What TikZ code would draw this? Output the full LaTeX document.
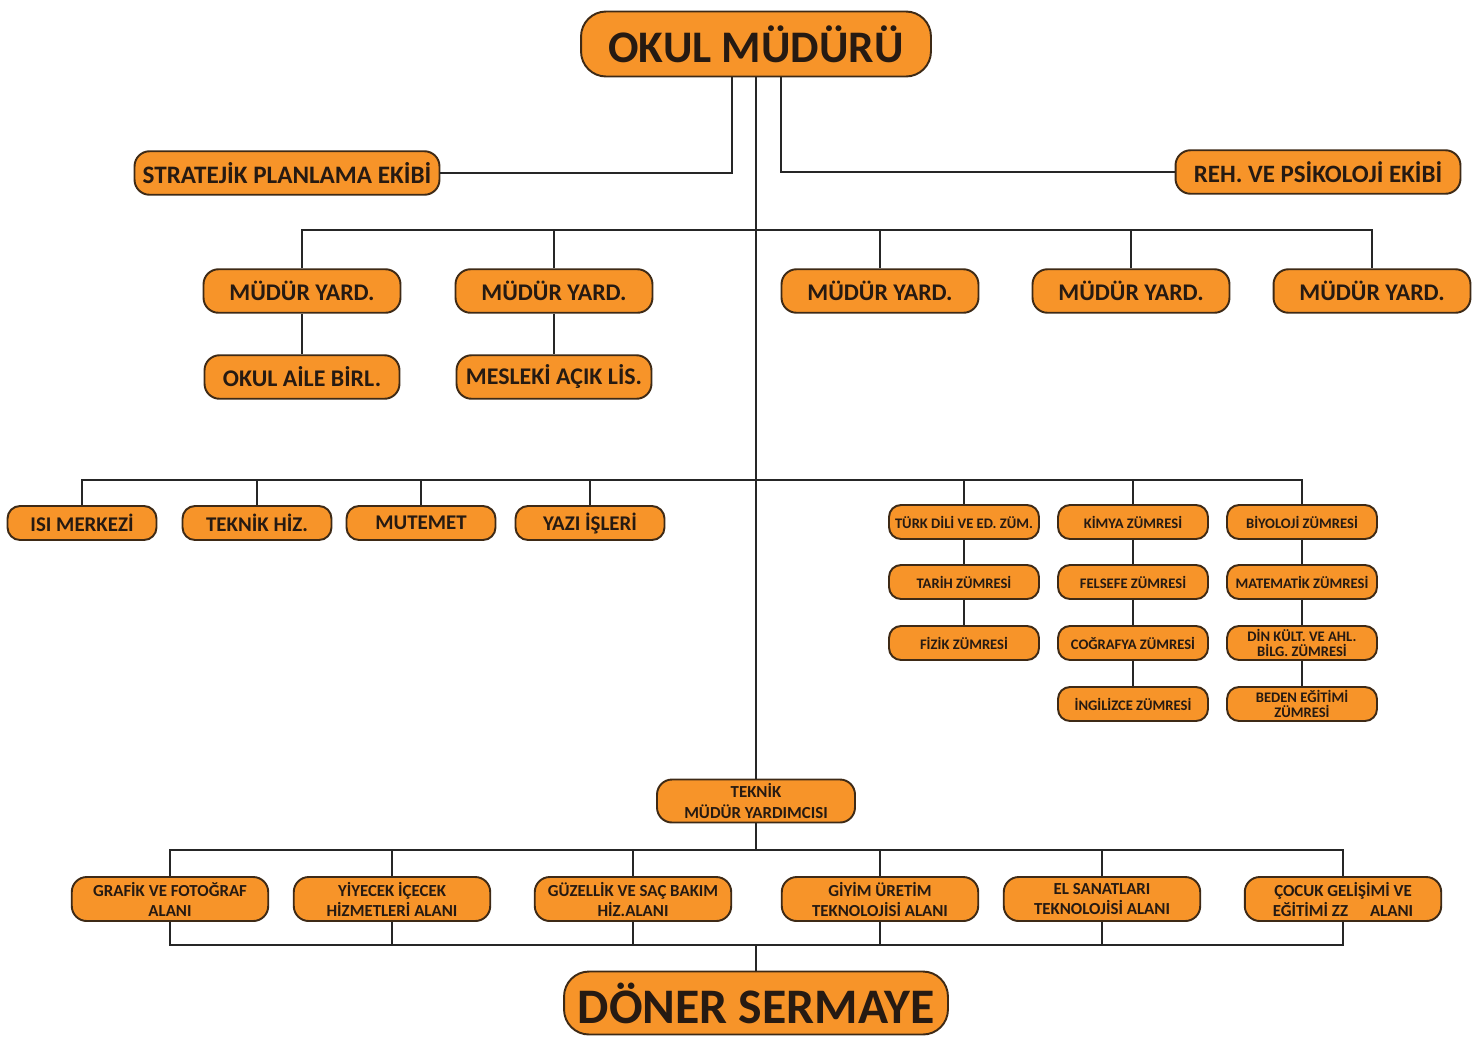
\documentclass[tikz,border=0pt]{standalone}
\usepackage{fontspec}
\setmainfont{Carlito}
\usetikzlibrary{calc}
\definecolor{boxorange}{RGB}{247,148,41}
\definecolor{boxline}{RGB}{62,42,22}
\definecolor{boxtext}{RGB}{38,26,18}

\begin{document}
\begin{tikzpicture}[
    x=0.02cm, y=-0.02cm,
    box/.style={rectangle, draw=boxline, line width=1.1pt, fill=boxorange, text=boxtext, align=center, inner sep=0pt},
    bigbox/.style={box, rounded corners=0.5cm, minimum height=1.3cm, font=\fontsize{25.7}{27}\selectfont\bfseries},
    midbox/.style={box, rounded corners=0.3cm, minimum width=3.94cm, minimum height=0.87cm, font=\fontsize{13.6}{15}\selectfont\bfseries},
    sidebox/.style={box, rounded corners=0.25cm, minimum width=2.98cm, minimum height=0.68cm, font=\fontsize{11.9}{13}\selectfont\bfseries},
    zumbox/.style={box, rounded corners=0.24cm, minimum width=3cm, minimum height=0.68cm, font=\fontsize{8.3}{9}\selectfont\bfseries},
    alanbox/.style={box, rounded corners=0.3cm, minimum width=3.93cm, minimum height=0.88cm, font=\fontsize{9.6}{11.4}\selectfont\bfseries},
    wire/.style={line width=1.6pt, draw=black!85}
]
\useasboundingbox (0,0) rectangle (1481,1036);

% Top
\node[bigbox, minimum width=7cm] (mudur) at (756,44) {OKUL MÜDÜRÜ};
\node[midbox, minimum width=6.1cm, font=\fontsize{14.3}{16}\selectfont\bfseries] (stratejik) at (287,173) {STRATEJİK PLANLAMA EKİBİ};
\node[midbox, minimum width=5.7cm, font=\fontsize{14.2}{16}\selectfont\bfseries] (rehber) at (1318,172) {REH. VE PSİKOLOJİ EKİBİ};

% Mudur yardimcilari
\node[midbox] (yard1) at (302,291) {MÜDÜR YARD.};
\node[midbox] (yard2) at (554,291) {MÜDÜR YARD.};
\node[midbox] (yard3) at (880,291) {MÜDÜR YARD.};
\node[midbox] (yard4) at (1131,291) {MÜDÜR YARD.};
\node[midbox] (yard5) at (1372,291) {MÜDÜR YARD.};
\node[midbox, minimum width=3.9cm] (aile) at (302,377) {OKUL AİLE BİRL.};
\node[midbox, minimum width=3.9cm] (acik) at (554,377) {MESLEKİ AÇIK LİS.};

% Birimler
\node[sidebox] (isi) at (82,523) {ISI MERKEZİ};
\node[sidebox] (teknikhiz) at (257,523) {TEKNİK HİZ.};
\node[sidebox] (mutemet) at (421,523) {MUTEMET};
\node[sidebox] (yazi) at (590,523) {YAZI İŞLERİ};

% Zumreler
\node[zumbox] (turk) at (964,522) {TÜRK DİLİ VE ED. ZÜM.};
\node[zumbox] (tarih) at (964,582) {TARİH ZÜMRESİ};
\node[zumbox] (fizik) at (964,643) {FİZİK ZÜMRESİ};
\node[zumbox] (kimya) at (1133,522) {KİMYA ZÜMRESİ};
\node[zumbox] (felsefe) at (1133,582) {FELSEFE ZÜMRESİ};
\node[zumbox] (cografya) at (1133,643) {COĞRAFYA ZÜMRESİ};
\node[zumbox] (ingilizce) at (1133,704) {İNGİLİZCE ZÜMRESİ};
\node[zumbox] (biyoloji) at (1302,522) {BİYOLOJİ ZÜMRESİ};
\node[zumbox] (matematik) at (1302,582) {MATEMATİK ZÜMRESİ};
\node[zumbox] (din) at (1302,643) {DİN KÜLT. VE AHL.\\BİLG. ZÜMRESİ};
\node[zumbox] (beden) at (1302,704) {BEDEN EĞİTİMİ\\ZÜMRESİ};

% Teknik
\node[alanbox, minimum width=3.96cm, minimum height=0.86cm] (teknikyard) at (756,801) {TEKNİK\\MÜDÜR YARDIMCISI};

% Alanlar
\node[alanbox] (grafik) at (170,899) {GRAFİK VE FOTOĞRAF\\ALANI};
\node[alanbox] (yiyecek) at (392,899) {YİYECEK İÇECEK\\HİZMETLERİ ALANI};
\node[alanbox] (guzellik) at (633,899) {GÜZELLİK VE SAÇ BAKIM\\HİZ.ALANI};
\node[alanbox] (giyim) at (880,899) {GİYİM ÜRETİM\\TEKNOLOJİSİ ALANI};
\node[alanbox] (elsanat) at (1102,899) {EL SANATLARI\\TEKNOLOJİSİ ALANI};
\node[alanbox] (cocuk) at (1343,899) {ÇOCUK GELİŞİMİ VE\\EĞİTİMİ ZZ\hspace{1.3em}ALANI};

% Doner sermaye
\node[bigbox, minimum width=7.68cm, minimum height=1.26cm, font=\fontsize{28.3}{30}\selectfont\bfseries] (doner) at (756,1003) {DÖNER SERMAYE};

% Bus points
\coordinate (busB) at (756,230);
\coordinate (busC) at (756,480);
\coordinate (busD) at (756,850);
\coordinate (busE) at (756,945);

% Connections
\draw[wire] ($(mudur.south)+(-24,0)$) |- (stratejik.east);
\draw[wire] ($(mudur.south)+(25,0)$) |- (rehber.west);
\draw[wire] (mudur.south) -- (teknikyard.north);

\draw[wire] (yard1.north) |- (busB) -| (yard5.north);
\draw[wire] (yard2.north) -- (yard2.north |- busB);
\draw[wire] (yard3.north) -- (yard3.north |- busB);
\draw[wire] (yard4.north) -- (yard4.north |- busB);
\draw[wire] (yard1) -- (aile);
\draw[wire] (yard2) -- (acik);

\draw[wire] (isi.north) |- (busC) -| (biyoloji.north);
\draw[wire] (teknikhiz.north) -- (teknikhiz.north |- busC);
\draw[wire] (mutemet.north) -- (mutemet.north |- busC);
\draw[wire] (yazi.north) -- (yazi.north |- busC);
\draw[wire] (turk.north) -- (turk.north |- busC);
\draw[wire] (kimya.north) -- (kimya.north |- busC);
\draw[wire] (turk) -- (tarih) -- (fizik);
\draw[wire] (kimya) -- (felsefe) -- (cografya) -- (ingilizce);
\draw[wire] (biyoloji) -- (matematik) -- (din) -- (beden);

\draw[wire] (teknikyard.south) -- (busD);
\draw[wire] (grafik.north) |- (busD) -| (cocuk.north);
\draw[wire] (yiyecek.north) -- (yiyecek.north |- busD);
\draw[wire] (guzellik.north) -- (guzellik.north |- busD);
\draw[wire] (giyim.north) -- (giyim.north |- busD);
\draw[wire] (elsanat.north) -- (elsanat.north |- busD);

\draw[wire] (grafik.south) |- (busE) -| (cocuk.south);
\draw[wire] (yiyecek.south) -- (yiyecek.south |- busE);
\draw[wire] (guzellik.south) -- (guzellik.south |- busE);
\draw[wire] (giyim.south) -- (giyim.south |- busE);
\draw[wire] (elsanat.south) -- (elsanat.south |- busE);
\draw[wire] (busE) -- (doner.north);

\end{tikzpicture}
\end{document}
